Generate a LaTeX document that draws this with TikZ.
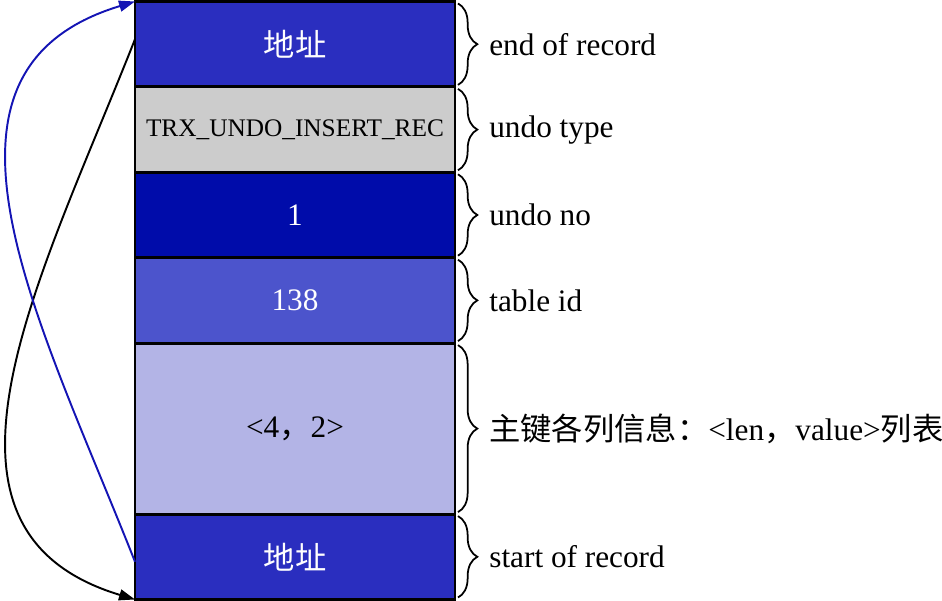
\documentclass[tikz,border=0pt]{standalone}
\usepackage{fontspec}
\setmainfont{Liberation Serif}
\newfontfamily\cjk{Noto Sans CJK SC}
\usetikzlibrary{positioning, arrows.meta, decorations.pathreplacing}
\definecolor{addrBlue}{HTML}{2A2EBF}
\definecolor{typeGrey}{HTML}{CCCCCC}
\definecolor{noBlue}{HTML}{000CAA}
\definecolor{idBlue}{HTML}{4C54CC}
\definecolor{keyBlue}{HTML}{B3B4E6}
\definecolor{linkBlue}{HTML}{1414B4}

\begin{document}
\begin{tikzpicture}[font=\fontsize{17.8}{20}\selectfont, node distance=0pt,
    field/.style={draw=black, line width=1.7pt, outer sep=0pt, inner sep=0pt,
                  minimum width=6.4cm, minimum height=1.708cm, align=center},
    brc/.style={decorate, decoration={brace, amplitude=11pt}, line width=1pt},
    link/.style={-{Triangle[length=0.32cm, width=0.22cm]}, line width=1.1pt}]
    \useasboundingbox (0,0) rectangle (18.84,-12.02);
    \node[field, fill=addrBlue, text=white, anchor=north west] (addrTop) at (2.7,-0.03)
      {\cjk 地址};
    \node[field, fill=typeGrey, font=\fontsize{14.4}{16}\selectfont, below=of addrTop] (undoType)
      {TRX\_UNDO\_INSERT\_REC};
    \node[field, fill=noBlue, text=white, below=of undoType] (undoNo) {1};
    \node[field, fill=idBlue, text=white, below=of undoNo] (tableId) {138};
    \node[field, fill=keyBlue, minimum height=3.42cm, below=of tableId] (keyCols)
      {<4{\cjk ，}2>};
    \node[field, fill=addrBlue, text=white, below=of keyCols] (addrBot) {\cjk 地址};
    \draw[brc] ([xshift=0.06cm, yshift=-0.04cm]addrTop.north east)
      -- ([xshift=0.06cm, yshift=0.04cm]addrTop.south east)
      node[midway, right=14pt] (endLbl) {end of record};
    \draw[brc] ([xshift=0.06cm, yshift=-0.04cm]undoType.north east)
      -- ([xshift=0.06cm, yshift=0.04cm]undoType.south east)
      node[midway, right=14pt] (typeLbl) {undo type};
    \draw[brc] ([xshift=0.06cm, yshift=-0.04cm]undoNo.north east)
      -- ([xshift=0.06cm, yshift=0.04cm]undoNo.south east)
      node[midway, right=14pt] (noLbl) {undo no};
    \draw[brc] ([xshift=0.06cm, yshift=-0.04cm]tableId.north east)
      -- ([xshift=0.06cm, yshift=0.04cm]tableId.south east)
      node[midway, right=14pt] (idLbl) {table id};
    \draw[brc] ([xshift=0.06cm, yshift=-0.04cm]keyCols.north east)
      -- ([xshift=0.06cm, yshift=0.04cm]keyCols.south east)
      node[midway, right=14pt] (keyLbl)
      {{\cjk 主键各列信息：}<len{\cjk ，}value>{\cjk 列表}};
    \draw[brc] ([xshift=0.06cm, yshift=-0.04cm]addrBot.north east)
      -- ([xshift=0.06cm, yshift=0.04cm]addrBot.south east)
      node[midway, right=14pt] (startLbl) {start of record};
    \draw[link] ([yshift=0.1cm]addrTop.west)
      .. controls (0.8,-5.6) and (-1.9,-10.6) .. (addrBot.south west);
    \draw[link, linkBlue] ([yshift=-0.1cm]addrBot.west)
      .. controls (0.8,-6.42) and (-1.9,-1.42) .. (addrTop.north west);
\end{tikzpicture}
\end{document}
